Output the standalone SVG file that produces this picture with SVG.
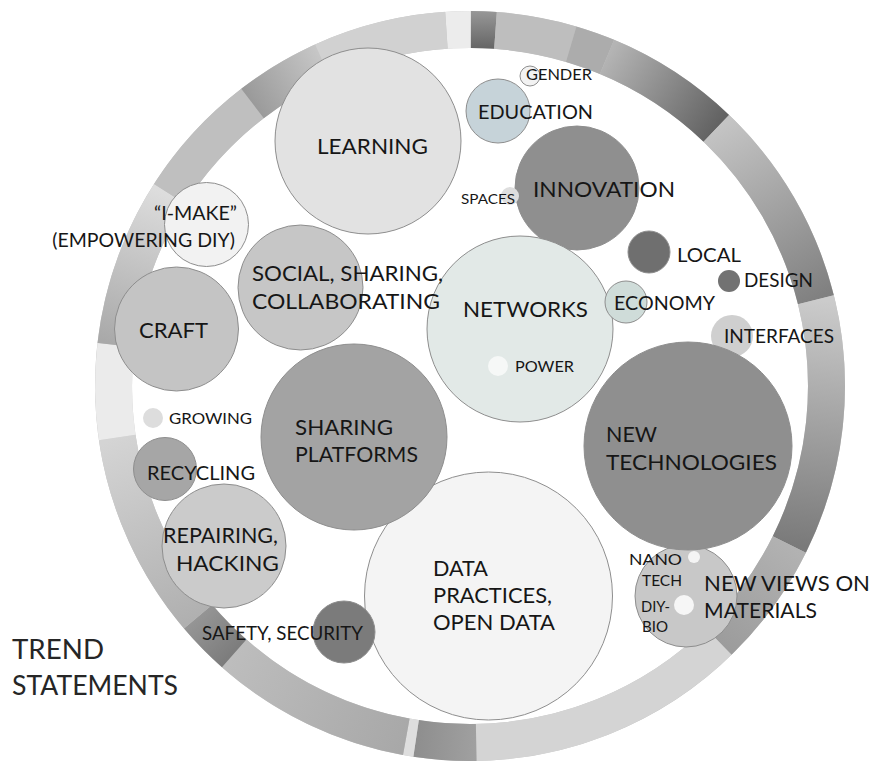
<svg xmlns="http://www.w3.org/2000/svg" width="872" height="767" viewBox="0 0 872 767">
<style>
.t{font-family:Lato,"Open Sans","Liberation Sans",sans-serif;fill:#161616}
.xl{font-size:27px;fill:#262626}
.l{font-size:22px}
.m{font-size:19.5px}
.s{font-size:15.5px}
.b{stroke:#8e8e8e;stroke-width:1}
.seg{fill:none;stroke-width:37}
</style>
<defs>
<linearGradient id="g2" gradientUnits="userSpaceOnUse" x1="471" y1="10" x2="471" y2="48"><stop offset="0" stop-color="#999"/><stop offset="1" stop-color="#666"/></linearGradient>
<linearGradient id="g5" gradientUnits="userSpaceOnUse" x1="607" y1="56.9" x2="716.3" y2="128.3"><stop offset="0" stop-color="#b4b4b4"/><stop offset="1" stop-color="#626262"/></linearGradient>
<linearGradient id="g6" gradientUnits="userSpaceOnUse" x1="716.3" y1="128.3" x2="815.9" y2="299.8"><stop offset="0" stop-color="#c4c4c4"/><stop offset="1" stop-color="#808080"/></linearGradient>
<linearGradient id="g7" gradientUnits="userSpaceOnUse" x1="815.9" y1="299.8" x2="789.3" y2="544.5"><stop offset="0" stop-color="#cbcbcb"/><stop offset="1" stop-color="#7a7a7a"/></linearGradient>
<linearGradient id="g8" gradientUnits="userSpaceOnUse" x1="789.3" y1="544.5" x2="718.6" y2="641.6"><stop offset="0" stop-color="#b2b2b2"/><stop offset="1" stop-color="#9c9c9c"/></linearGradient>
<linearGradient id="g10" gradientUnits="userSpaceOnUse" x1="476.2" y1="742.4" x2="416.1" y2="738.4"><stop offset="0" stop-color="#a0a0a0"/><stop offset="1" stop-color="#8e8e8e"/></linearGradient>
<linearGradient id="g12" gradientUnits="userSpaceOnUse" x1="406.3" y1="736.8" x2="234.2" y2="653.4"><stop offset="0" stop-color="#a8a8a8"/><stop offset="1" stop-color="#bdbdbd"/></linearGradient>
<linearGradient id="g13" gradientUnits="userSpaceOnUse" x1="234.2" y1="653.4" x2="198.1" y2="616.6"><stop offset="0" stop-color="#7c7c7c"/><stop offset="1" stop-color="#959595"/></linearGradient>
<linearGradient id="g14" gradientUnits="userSpaceOnUse" x1="198.1" y1="616.6" x2="117.2" y2="437.5"><stop offset="0" stop-color="#b0b0b0"/><stop offset="1" stop-color="#d4d4d4"/></linearGradient>
<linearGradient id="g16" gradientUnits="userSpaceOnUse" x1="115.9" y1="345" x2="169.6" y2="193.9"><stop offset="0" stop-color="#a9a9a9"/><stop offset="1" stop-color="#dddddd"/></linearGradient>
<linearGradient id="g18" gradientUnits="userSpaceOnUse" x1="252.5" y1="103.5" x2="322.7" y2="61.3"><stop offset="0" stop-color="#9a9a9a"/><stop offset="1" stop-color="#c6c6c6"/></linearGradient>
</defs>
<rect width="872" height="767" fill="#ffffff"/>
<g id="ring">
<circle cx="470" cy="386" r="356.5" class="seg" stroke="#c4c4c4"/>
<path class="seg" stroke="#ececec" d="M446.4 30.3 A356.5 356.5 0 0 1 470.9 29.5"/>
<path class="seg" stroke="url(#g2)" d="M470.9 29.5 A356.5 356.5 0 0 1 495.5 30.4"/>
<path class="seg" stroke="#bebebe" d="M495.5 30.4 A356.5 356.5 0 0 1 571.2 44.2"/>
<path class="seg" stroke="#acacac" d="M571.2 44.2 A356.5 356.5 0 0 1 607 56.9"/>
<path class="seg" stroke="url(#g5)" d="M607 56.9 A356.5 356.5 0 0 1 716.3 128.3"/>
<path class="seg" stroke="url(#g6)" d="M716.3 128.3 A356.5 356.5 0 0 1 815.9 299.8"/>
<path class="seg" stroke="url(#g7)" d="M815.9 299.8 A356.5 356.5 0 0 1 789.3 544.5"/>
<path class="seg" stroke="url(#g8)" d="M789.3 544.5 A356.5 356.5 0 0 1 718.6 641.6"/>
<path class="seg" stroke="#d4d4d4" d="M718.6 641.6 A356.5 356.5 0 0 1 476.2 742.4"/>
<path class="seg" stroke="url(#g10)" d="M476.2 742.4 A356.5 356.5 0 0 1 416.1 738.4"/>
<path class="seg" stroke="#dedede" d="M416.1 738.4 A356.5 356.5 0 0 1 406.3 736.8"/>
<path class="seg" stroke="url(#g12)" d="M406.3 736.8 A356.5 356.5 0 0 1 234.2 653.4"/>
<path class="seg" stroke="url(#g13)" d="M234.2 653.4 A356.5 356.5 0 0 1 198.1 616.6"/>
<path class="seg" stroke="url(#g14)" d="M198.1 616.6 A356.5 356.5 0 0 1 117.2 437.5"/>
<path class="seg" stroke="#ebebeb" d="M117.2 437.5 A356.5 356.5 0 0 1 115.9 345"/>
<path class="seg" stroke="url(#g16)" d="M115.9 345 A356.5 356.5 0 0 1 169.6 193.9"/>
<path class="seg" stroke="#bfbfbf" d="M169.6 193.9 A356.5 356.5 0 0 1 252.5 103.5"/>
<path class="seg" stroke="url(#g18)" d="M252.5 103.5 A356.5 356.5 0 0 1 322.7 61.3"/>
<path class="seg" stroke="#d1d1d1" d="M322.7 61.3 A356.5 356.5 0 0 1 446.4 30.3"/>
</g>
<g id="connectors"/>
<g id="learning"><circle cx="368" cy="141" r="93" fill="#e2e2e2" class="b"/><text class="t l" x="317" y="154" textLength="111" lengthAdjust="spacingAndGlyphs">LEARNING</text></g>
<g id="education"><circle cx="498" cy="111" r="32" fill="#c6d3d9" class="b"/><text class="t m" x="478" y="118.5" textLength="115" lengthAdjust="spacingAndGlyphs">EDUCATION</text></g>
<g id="gender"><circle cx="530" cy="76" r="10" fill="#f2f2f2" class="b"/><text class="t s" x="526" y="80" textLength="66" lengthAdjust="spacingAndGlyphs">GENDER</text></g>
<g id="innovation"><circle cx="577" cy="188" r="62" fill="#8f8f8f" class="b"/><text class="t l" x="533" y="197" textLength="142" lengthAdjust="spacingAndGlyphs">INNOVATION</text></g>
<g id="spaces"><circle cx="510" cy="196" r="9" fill="#dedede"/><text class="t s" style="font-size:14px" x="461" y="203.5" textLength="54" lengthAdjust="spacingAndGlyphs">SPACES</text></g>
<g id="local"><circle cx="649" cy="252" r="21" fill="#6f6f6f" class="b"/><text class="t m" x="677" y="262" textLength="64" lengthAdjust="spacingAndGlyphs">LOCAL</text></g>
<g id="design"><circle cx="729" cy="281" r="11" fill="#727272"/><text class="t m" x="744" y="287" textLength="69" lengthAdjust="spacingAndGlyphs">DESIGN</text></g>
<g id="networks"><circle cx="520" cy="329" r="93" fill="#e2e9e7" class="b"/><text class="t l" x="463" y="317" textLength="125" lengthAdjust="spacingAndGlyphs">NETWORKS</text></g>
<g id="power"><circle cx="498" cy="366" r="10" fill="#f6f8f7"/><text class="t s" x="515" y="371.5" textLength="59" lengthAdjust="spacingAndGlyphs">POWER</text></g>
<g id="economy"><circle cx="626" cy="302" r="21" fill="#cfdcd9" class="b"/><text class="t m" x="614" y="309.5" textLength="101" lengthAdjust="spacingAndGlyphs">ECONOMY</text></g>
<g id="interfaces"><circle cx="732" cy="336" r="21" fill="#cfcfcf"/><text class="t m" x="724" y="343" textLength="110" lengthAdjust="spacingAndGlyphs">INTERFACES</text></g>
<g id="new-views"><circle cx="686" cy="596" r="51" fill="#c8c8c8" class="b"/><circle cx="694" cy="557" r="6" fill="#f4f4f4"/><circle cx="684" cy="605" r="10" fill="#f6f6f6"/><text class="t s" style="font-size:16px" x="629" y="564.5" textLength="53" lengthAdjust="spacingAndGlyphs">NANO</text><text class="t s" style="font-size:16px" x="642" y="585.5" textLength="40" lengthAdjust="spacingAndGlyphs">TECH</text><text class="t s" style="font-size:16px" x="641" y="611.5" textLength="29" lengthAdjust="spacingAndGlyphs">DIY-</text><text class="t s" style="font-size:16px" x="642" y="632" textLength="26" lengthAdjust="spacingAndGlyphs">BIO</text><text class="t l" x="704" y="591" textLength="166" lengthAdjust="spacingAndGlyphs">NEW VIEWS ON</text><text class="t l" x="704" y="618" textLength="113" lengthAdjust="spacingAndGlyphs">MATERIALS</text></g>
<g id="new-technologies"><circle cx="688" cy="446" r="104" fill="#8f8f8f" class="b"/><text class="t l" x="606" y="442" textLength="51" lengthAdjust="spacingAndGlyphs">NEW</text><text class="t l" x="606" y="469.5" textLength="171" lengthAdjust="spacingAndGlyphs">TECHNOLOGIES</text></g>
<g id="i-make"><circle cx="206.5" cy="224.5" r="42" fill="#f2f2f2" class="b"/><text class="t m" x="237" y="219.5" text-anchor="end" textLength="83" lengthAdjust="spacingAndGlyphs">“I-MAKE”</text><text class="t m" x="235" y="246.5" text-anchor="end">(EMPOWERING DIY)</text></g>
<g id="social"><circle cx="300.5" cy="287.5" r="62.5" fill="#c6c6c6" class="b"/><text class="t l" x="252" y="281" textLength="191" lengthAdjust="spacingAndGlyphs">SOCIAL, SHARING,</text><text class="t l" x="252" y="308.5" textLength="188" lengthAdjust="spacingAndGlyphs">COLLABORATING</text></g>
<g id="craft"><circle cx="176.5" cy="329" r="62" fill="#c4c4c4" class="b"/><text class="t l" x="139" y="338" textLength="69" lengthAdjust="spacingAndGlyphs">CRAFT</text></g>
<g id="growing"><circle cx="153" cy="418" r="10" fill="#dddddd"/><text class="t s" x="169" y="423.5" textLength="83" lengthAdjust="spacingAndGlyphs">GROWING</text></g>
<g id="recycling"><circle cx="165" cy="469" r="31.5" fill="#a6a6a6" class="b"/><text class="t m" x="147" y="480" textLength="108" lengthAdjust="spacingAndGlyphs">RECYCLING</text></g>
<g id="data"><circle cx="488.5" cy="596" r="124" fill="#f4f4f4" class="b"/><text class="t l" style="font-size:21.5px" x="433" y="575.5" textLength="55" lengthAdjust="spacingAndGlyphs">DATA</text><text class="t l" style="font-size:21.5px" x="433" y="603" textLength="119" lengthAdjust="spacingAndGlyphs">PRACTICES,</text><text class="t l" style="font-size:21.5px" x="433" y="630" textLength="122" lengthAdjust="spacingAndGlyphs">OPEN DATA</text></g>
<g id="sharing-platforms"><circle cx="354" cy="437" r="93" fill="#a3a3a3" class="b"/><text class="t l" x="295" y="434.5" textLength="98" lengthAdjust="spacingAndGlyphs">SHARING</text><text class="t l" x="295" y="462" textLength="123" lengthAdjust="spacingAndGlyphs">PLATFORMS</text></g>
<g id="repairing"><circle cx="224" cy="546" r="62" fill="#cbcbcb" class="b"/><text class="t l" x="163" y="542.5" textLength="115" lengthAdjust="spacingAndGlyphs">REPAIRING,</text><text class="t l" x="176" y="570.5" textLength="103" lengthAdjust="spacingAndGlyphs">HACKING</text></g>
<g id="safety"><circle cx="344" cy="632" r="31" fill="#7b7b7b" class="b"/><text class="t m" style="font-size:18.5px" x="202" y="640" textLength="161" lengthAdjust="spacingAndGlyphs">SAFETY, SECURITY</text></g>
<g id="title"><text class="t xl" x="12" y="659" textLength="92" lengthAdjust="spacingAndGlyphs">TREND</text><text class="t xl" x="12" y="694.5" textLength="166" lengthAdjust="spacingAndGlyphs">STATEMENTS</text></g>
</svg>
